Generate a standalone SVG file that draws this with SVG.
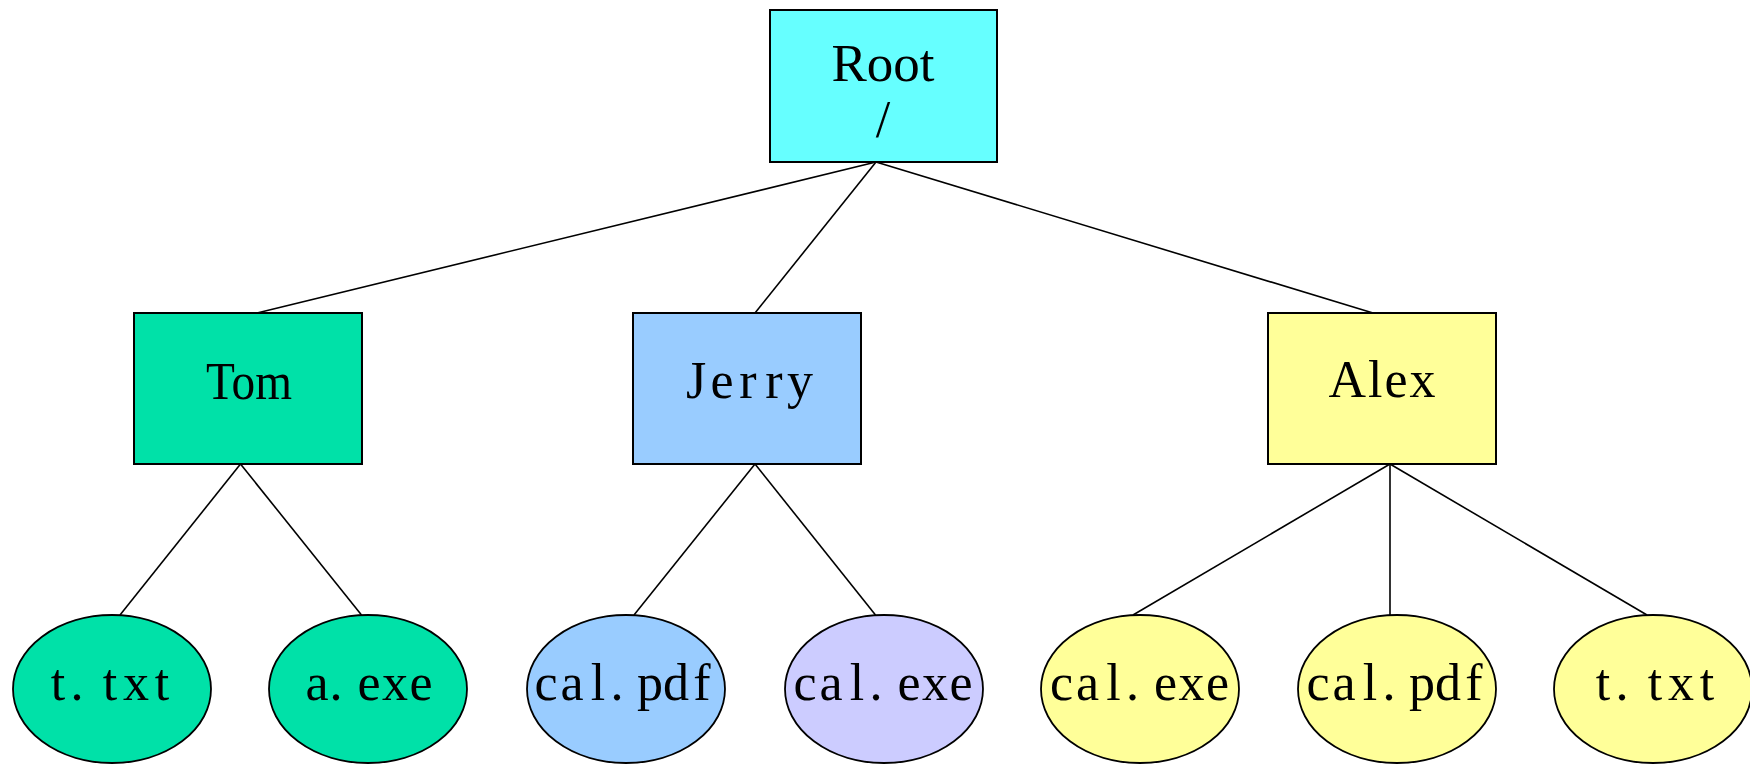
<svg xmlns="http://www.w3.org/2000/svg" width="1750" height="766" viewBox="0 0 1750 766">
  <style>
    .edge { stroke: #000; stroke-width: 1.6; fill: none; }
    .box { stroke: #000; stroke-width: 2; }
    .leaf { stroke: #000; stroke-width: 1.8; }
    .lbl { font-family: "Liberation Serif", "Times New Roman", serif; font-size: 52px; fill: #000; text-anchor: middle; }
  </style>
  <rect width="1750" height="766" fill="#fff"/>

  <!-- tree edges -->
  <g id="connectors">
    <line class="edge" x1="876" y1="162" x2="257" y2="313"/>
    <line class="edge" x1="876" y1="162" x2="755" y2="313"/>
    <line class="edge" x1="876" y1="162" x2="1373" y2="313"/>
    <line class="edge" x1="240.5" y1="464" x2="120" y2="615"/>
    <line class="edge" x1="240.5" y1="464" x2="361.5" y2="615"/>
    <line class="edge" x1="755" y1="464" x2="634" y2="615"/>
    <line class="edge" x1="755" y1="464" x2="875.5" y2="615"/>
    <line class="edge" x1="1390" y1="464" x2="1133" y2="615"/>
    <line class="edge" x1="1390" y1="464" x2="1390" y2="615"/>
    <line class="edge" x1="1390" y1="464" x2="1647" y2="615"/>
  </g>

  <!-- directories -->
  <g id="root">
    <rect class="box" x="770" y="10" width="227" height="152" fill="#66FFFF"/>
    <text class="lbl" x="883" y="81" textLength="103" lengthAdjust="spacingAndGlyphs">Root</text>
    <text class="lbl" x="883" y="137">/</text>
  </g>
  <g id="tom">
    <rect class="box" x="134" y="313" width="228" height="151" fill="#00E1A8"/>
    <text class="lbl" x="249" y="399" textLength="86" lengthAdjust="spacingAndGlyphs">Tom</text>
  </g>
  <g id="jerry">
    <rect class="box" x="633" y="313" width="228" height="151" fill="#99CCFF"/>
    <!-- fixed-pitch cells, one glyph per cell -->
    <text class="lbl" x="696 722 748 774 800" y="398">Jerry</text>
  </g>
  <g id="alex">
    <rect class="box" x="1268" y="313" width="228" height="151" fill="#FFFF99"/>
    <text class="lbl" x="1382" y="397" textLength="107" lengthAdjust="spacing">Alex</text>
  </g>

  <!-- files: glyphs set on a 26px pitch -->
  <g id="tom-t-txt">
    <ellipse class="leaf" cx="112" cy="689" rx="99" ry="74" fill="#00E1A8"/>
    <text class="lbl" x="58 77 110 136 162" y="700">t.txt</text>
  </g>
  <g id="tom-a-exe">
    <ellipse class="leaf" cx="368" cy="689" rx="99" ry="74" fill="#00E1A8"/>
    <text class="lbl" x="317 336 369 395 421" y="700">a.exe</text>
  </g>
  <g id="jerry-cal-pdf">
    <ellipse class="leaf" cx="626" cy="689" rx="99" ry="74" fill="#99CCFF"/>
    <text class="lbl" x="546 572 598 617 650 676 702" y="700">cal.pdf</text>
  </g>
  <g id="jerry-cal-exe">
    <ellipse class="leaf" cx="884" cy="689" rx="99" ry="74" fill="#CCCCFF"/>
    <text class="lbl" x="805 831 857 876 909 935 961" y="700">cal.exe</text>
  </g>
  <g id="alex-cal-exe">
    <ellipse class="leaf" cx="1140" cy="689" rx="99" ry="74" fill="#FFFF99"/>
    <text class="lbl" x="1061.5 1087.5 1113.5 1132.5 1165.5 1191.5 1217.5" y="700">cal.exe</text>
  </g>
  <g id="alex-cal-pdf">
    <ellipse class="leaf" cx="1397" cy="689" rx="99" ry="74" fill="#FFFF99"/>
    <text class="lbl" x="1318 1344 1370 1389 1422 1448 1474" y="700">cal.pdf</text>
  </g>
  <g id="alex-t-txt">
    <ellipse class="leaf" cx="1653" cy="689" rx="99" ry="74" fill="#FFFF99"/>
    <text class="lbl" x="1603 1622 1655 1681 1707" y="700">t.txt</text>
  </g>
</svg>
